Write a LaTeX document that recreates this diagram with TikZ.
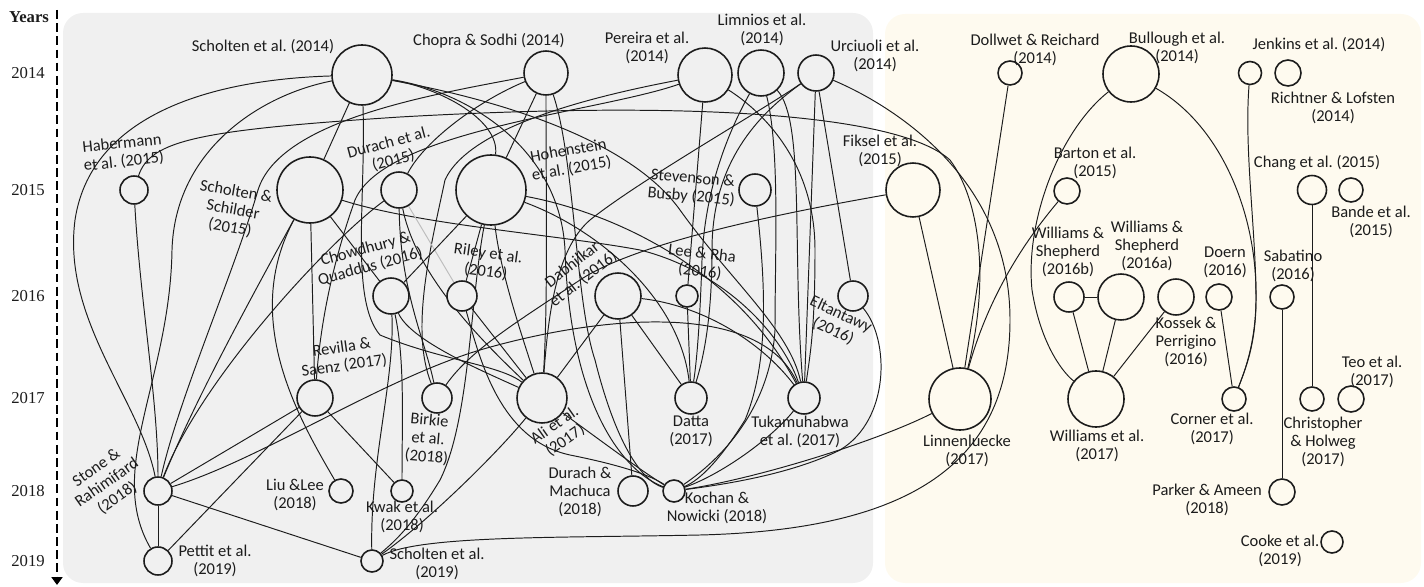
\documentclass[tikz,border=0pt]{standalone}
\usepackage{fontspec}
\setmainfont{Carlito}
\newfontfamily\yearfont{Liberation Serif}
\usepackage{tikz}
\usetikzlibrary{arrows.meta,backgrounds,positioning}
\definecolor{cnGrey}{HTML}{F0F0F0}
\definecolor{cnCream}{HTML}{FEFAEF}
\definecolor{cnInk}{HTML}{1C1C1C}
\definecolor{cnFaint}{HTML}{BDBDBD}
\frenchspacing
\tikzset{
  cn diagram/.style={x=0.02cm, y=-0.02cm, line cap=round, line join=round, text=cnInk},
  cn paper/.style={circle, draw=cnInk, fill=cnGrey, line width=0.9pt,
    inner sep=0pt, minimum size=#1*0.02cm},
  cn late/.style={fill=cnCream},
  cn label/.style={font=\fontsize{9.4}{10.4}\selectfont, align=center, inner sep=0pt},
  cn link/.style={draw=cnInk, line width=0.55pt},
  cn faint/.style={draw=cnFaint, line width=0.55pt},
  cn year/.style={font=\yearfont\fontsize{9.5}{11}\selectfont},
  cn axis/.style={-{Triangle[length=1.6mm,width=2.2mm]}, draw=black,
    line width=1.5pt, line cap=butt, dash pattern=on 5pt off 2.5pt},
  cn panel/.style={rounded corners=0.4cm}
}
\begin{document}
\begin{tikzpicture}[cn diagram]
\useasboundingbox (0,0) rectangle (1424,587);
\begin{scope}[on background layer]
\fill[cn panel, cnGrey] (63,13) rectangle (873,583);
\fill[cn panel, cnCream] (885,14) rectangle (1421,583);
\end{scope}
\node[cn year, font=\yearfont\bfseries\fontsize{9.5}{11}\selectfont] (yHead) at (29,17) {Years};
\node[cn year] (y2014) at (28,73) {2014};
\node[cn year] (y2015) at (28,190) {2015};
\node[cn year] (y2016) at (28,296) {2016};
\node[cn year] (y2017) at (28,398) {2017};
\node[cn year] (y2018) at (28,491) {2018};
\node[cn year] (y2019) at (28,561) {2019};
\coordinate (axTop) at (57,10);
\coordinate (axEnd) at (57,585);
\draw[cn axis] (axTop) -- (axEnd);
% grey panel
\node[cn paper=60] (S14) at (362,75) {};
\node[cn paper=44] (CS14) at (546,73) {};
\node[cn paper=54] (Pe14) at (705,75) {};
\node[cn paper=46] (Li14) at (761,73) {};
\node[cn paper=36] (Ur14) at (816,73) {};
\node[cn paper=28] (Ha15) at (134,190) {};
\node[cn paper=66] (SS15) at (310,190) {};
\node[cn paper=36] (Du15) at (399,190) {};
\node[cn paper=70] (Ho15) at (491,190) {};
\node[cn paper=32] (SB15) at (755,190) {};
\node[cn paper=54, cn late] (Fi15) at (913,190) {};
\node[cn paper=36] (CQ16) at (391,296) {};
\node[cn paper=30] (Ri16) at (462,296) {};
\node[cn paper=46] (Da16) at (618,296) {};
\node[cn paper=22] (LR16) at (687,296) {};
\node[cn paper=30] (El16) at (853,296) {};
\node[cn paper=36] (RS17) at (315,398) {};
\node[cn paper=30] (Bi18) at (437,398) {};
\node[cn paper=50] (Al17) at (542,398) {};
\node[cn paper=32] (Dt17) at (691,398) {};
\node[cn paper=32] (Tu17) at (804,398) {};
\node[cn paper=62, cn late] (Ln17) at (960,399) {};
\node[cn paper=28] (SR18) at (158,491) {};
\node[cn paper=24] (LL18) at (341,491) {};
\node[cn paper=22] (Kw18) at (402,491) {};
\node[cn paper=30] (DM18) at (633,491) {};
\node[cn paper=22] (KN18) at (674,491) {};
\node[cn paper=28] (Pt19) at (158,561) {};
\node[cn paper=22] (S19) at (372,561) {};
% cream panel
\node[cn paper=24, cn late] (DR14) at (1010,73) {};
\node[cn paper=56, cn late] (Bu14) at (1131,74) {};
\node[cn paper=23, cn late] (Je14) at (1250,73) {};
\node[cn paper=26, cn late] (RL14) at (1288,73) {};
\node[cn paper=26, cn late] (Ba15) at (1067,191) {};
\node[cn paper=29, cn late] (Ch15) at (1312,190) {};
\node[cn paper=24, cn late] (Bd15) at (1351,190) {};
\node[cn paper=30, cn late] (WS16b) at (1069,297) {};
\node[cn paper=46, cn late] (WS16a) at (1121,297) {};
\node[cn paper=36, cn late] (KP16) at (1176,297) {};
\node[cn paper=26, cn late] (Do16) at (1219,297) {};
\node[cn paper=24, cn late] (Sa16) at (1282,297) {};
\node[cn paper=56, cn late] (Wi17) at (1096,399) {};
\node[cn paper=24, cn late] (Co17) at (1234,399) {};
\node[cn paper=24, cn late] (CH17) at (1312,399) {};
\node[cn paper=26, cn late] (Te17) at (1351,399) {};
\node[cn paper=26, cn late] (PA18) at (1282,492) {};
\node[cn paper=22, cn late] (Ck19) at (1332,542) {};
% labels
\node[cn label] (lS14) at (263,47) {Scholten et al. (2014)};
\node[cn label] (lCS14) at (489,41) {Chopra \& Sodhi (2014)};
\node[cn label] (lPe14) at (647,48) {Pereira et al.\\(2014)};
\node[cn label] (lLi14) at (762,30) {Limnios et al.\\(2014)};
\node[cn label] (lUr14) at (875,56) {Urciuoli et al.\\(2014)};
\node[cn label, rotate=6] (lHa15) at (123,153) {Habermann\\et al. (2015)};
\node[cn label, rotate=-10] (lSS15) at (233,210) {Scholten \&\\Schilder\\(2015)};
\node[cn label, rotate=15] (lDu15) at (391,152) {Durach et al.\\(2015)};
\node[cn label, rotate=10] (lHo15) at (570,160) {Hohenstein\\et al. (2015)};
\node[cn label, rotate=-5] (lSB15) at (692,188) {Stevenson \&\\Busby (2015)};
\node[cn label] (lFi15) at (880,151) {Fiksel et al.\\(2015)};
\node[cn label, rotate=15] (lCQ16) at (368,258) {Chowdhury \&\\Quaddus (2016)};
\node[cn label, rotate=-8] (lRi16) at (487,263) {Riley et al.\\(2016)};
\node[cn label, rotate=38] (lDa16) at (578,272) {Dabhilkar\\et al. (2016)};
\node[cn label, rotate=-7] (lLR16) at (701,263) {Lee \& Rha\\(2016)};
\node[cn label, rotate=-25] (lEl16) at (837,323) {Eltantawy\\(2016)};
\node[cn label, rotate=8] (lRS17) at (343,357) {Revilla \&\\Saenz (2017)};
\node[cn label, rotate=-5] (lBi18) at (428,439) {Birkie\\et al.\\(2018)};
\node[cn label, rotate=35] (lAl17) at (560,433) {Ali et al.\\(2017)};
\node[cn label] (lDt17) at (691,431) {Datta\\(2017)};
\node[cn label] (lTu17) at (800,432) {Tukamuhabwa\\et al. (2017)};
\node[cn label] (lLn17) at (967,451) {Linnenluecke\\(2017)};
\node[cn label, rotate=35] (lSR18) at (107,483) {Stone \&\\Rahimifard\\(2018)};
\node[cn label] (lLL18) at (295,495) {Liu \&Lee\\(2018)};
\node[cn label] (lKw18) at (402,517) {Kwak et al.\\(2018)};
\node[cn label] (lDM18) at (580,492) {Durach \&\\Machuca\\(2018)};
\node[cn label] (lKN18) at (717,508) {Kochan \&\\Nowicki (2018)};
\node[cn label] (lPt19) at (215,561) {Pettit et al.\\(2019)};
\node[cn label] (lS19) at (437,564) {Scholten et al.\\(2019)};
\node[cn label] (lDR14) at (1035,50) {Dollwet \& Reichard\\(2014)};
\node[cn label] (lBu14) at (1177,48) {Bullough et al.\\(2014)};
\node[cn label] (lJe14) at (1319,45) {Jenkins et al. (2014)};
\node[cn label] (lRL14) at (1333,108) {Richtner \& Lofsten\\(2014)};
\node[cn label] (lBa15) at (1095,163) {Barton et al.\\(2015)};
\node[cn label] (lCh15) at (1317,163) {Chang et al. (2015)};
\node[cn label] (lBd15) at (1371,222) {Bande et al.\\(2015)};
\node[cn label] (lWS16b) at (1068,252) {Williams \&\\Shepherd\\(2016b)};
\node[cn label] (lWS16a) at (1147,246) {Williams \&\\Shepherd\\(2016a)};
\node[cn label] (lDo16) at (1225,262) {Doern\\(2016)};
\node[cn label] (lSa16) at (1293,266) {Sabatino\\(2016)};
\node[cn label] (lKP16) at (1186,342) {Kossek \&\\Perrigino\\(2016)};
\node[cn label] (lWi17) at (1097,446) {Williams et al.\\(2017)};
\node[cn label] (lCo17) at (1212,429) {Corner et al.\\(2017)};
\node[cn label] (lCH17) at (1323,442) {Christopher\\\& Holweg\\(2017)};
\node[cn label] (lTe17) at (1372,372) {Teo et al.\\(2017)};
\node[cn label] (lPA18) at (1207,500) {Parker \& Ameen\\(2018)};
\node[cn label] (lCk19) at (1280,551) {Cooke et al.\\(2019)};
\begin{scope}[on background layer]
% citations, grey panel
\draw[cn link] (S14) .. controls (200,80) and (90,120) .. (75,220) .. controls (62,320) and (140,400) .. (SR18);
\draw[cn link] (S14) .. controls (260,95) and (175,150) .. (172,250) .. controls (170,380) and (105,470) .. (Pt19);
\draw[cn link] (S14) -- (SS15);
\draw[cn link] (S14) .. controls (366,200) and (350,300) .. (380,335) .. controls (440,360) and (500,365) .. (Al17);
\draw[cn link] (S14) .. controls (440,88) and (500,120) .. (Ho15);
\draw[cn link] (S14) .. controls (470,92) and (560,150) .. (565,250) .. controls (570,400) and (620,470) .. (KN18);
\draw[cn link] (S14) .. controls (500,100) and (630,140) .. (680,210) .. controls (730,280) and (790,330) .. (Tu17);
\draw[cn link] (Ha15) .. controls (150,140) and (200,130) .. (400,117) .. controls (700,100) and (900,115) .. (950,160) .. controls (980,200) and (990,280) .. (Ln17);
\draw[cn link] (Ha15) .. controls (140,300) and (158,400) .. (SR18);
\draw[cn link] (CS14) .. controls (430,95) and (280,120) .. (258,190) .. controls (235,270) and (178,400) .. (SR18);
\draw[cn link] (CS14) .. controls (480,100) and (425,140) .. (Du15);
\draw[cn link] (CS14) -- (Ho15);
\draw[cn link] (CS14) .. controls (546,200) and (548,300) .. (Al17);
\draw[cn link] (CS14) .. controls (575,160) and (575,300) .. (595,360) .. controls (615,440) and (640,480) .. (KN18);
\draw[cn link] (Pe14) .. controls (600,95) and (470,125) .. (445,180) .. controls (430,250) and (410,330) .. (Bi18);
\draw[cn link] (Pe14) .. controls (600,112) and (385,130) .. (355,200) .. controls (330,270) and (320,330) .. (RS17);
\draw[cn link] (Pe14) -- (LR16);
\draw[cn link] (Pe14) .. controls (760,110) and (815,160) .. (815,250) .. controls (815,330) and (810,355) .. (Tu17);
\draw[cn link] (Li14) .. controls (780,150) and (775,250) .. (775,330) .. controls (770,410) and (720,460) .. (KN18);
\draw[cn link] (Li14) .. controls (735,120) and (705,180) .. (702,260) .. controls (700,320) and (697,360) .. (Dt17);
\draw[cn link] (Li14) .. controls (805,120) and (792,250) .. (Tu17);
\draw[cn link] (Ur14) .. controls (760,112) and (640,180) .. (590,220) .. controls (555,250) and (548,320) .. (Al17);
\draw[cn link] (Ur14) .. controls (750,120) and (712,170) .. (712,250) .. controls (712,320) and (703,360) .. (Dt17);
\draw[cn link] (Ur14) -- (Tu17);
\draw[cn link] (Ur14) -- (El16);
\draw[cn link] (Ur14) .. controls (880,100) and (1010,170) .. (1010,320) .. controls (1010,470) and (900,530) .. (700,535) .. controls (560,538) and (420,535) .. (S19);
\draw[cn link] (SS15) .. controls (250,300) and (195,400) .. (SR18);
\draw[cn link] (SS15) -- (RS17);
\draw[cn link] (SS15) -- (CQ16);
\draw[cn link] (SS15) .. controls (420,225) and (560,235) .. (640,250) .. controls (720,270) and (780,330) .. (Tu17);
\draw[cn link] (SS15) .. controls (240,320) and (300,420) .. (LL18);
\draw[cn link] (Du15) .. controls (330,240) and (200,380) .. (SR18);
\draw[cn faint] (Du15) -- (Ri16);
\draw[cn link] (Du15) .. controls (415,270) and (470,330) .. (Al17);
\draw[cn link] (Du15) .. controls (400,290) and (425,340) .. (Bi18);
\draw[cn link] (Ho15) .. controls (500,270) and (520,330) .. (Al17);
\draw[cn link] (Ho15) .. controls (600,210) and (730,260) .. (Tu17);
\draw[cn link] (Ho15) .. controls (600,230) and (680,300) .. (Dt17);
\draw[cn link] (Ho15) -- (CQ16);
\draw[cn link] (Ho15) -- (Ri16);
\draw[cn link] (Ho15) .. controls (470,300) and (470,420) .. (440,480) .. controls (410,530) and (390,545) .. (S19);
\draw[cn link] (SB15) .. controls (765,280) and (770,360) .. (745,420) .. controls (720,460) and (700,480) .. (KN18);
\draw[cn link] (Fi15) -- (Ln17);
\draw[cn link] (Fi15) .. controls (800,210) and (640,240) .. (580,280) .. controls (520,320) and (470,350) .. (Bi18);
\draw[cn link] (CQ16) .. controls (395,380) and (370,460) .. (S19);
\draw[cn link] (CQ16) .. controls (410,340) and (480,370) .. (Al17);
\draw[cn link] (CQ16) .. controls (405,360) and (402,420) .. (Kw18);
\draw[cn link] (Ri16) -- (Al17);
\draw[cn link] (Ri16) .. controls (480,360) and (500,440) .. (570,455) .. controls (620,465) and (650,475) .. (KN18);
\draw[cn link] (Da16) -- (Al17);
\draw[cn link] (Da16) -- (Dt17);
\draw[cn link] (Da16) -- (DM18);
\draw[cn link] (Da16) .. controls (700,305) and (760,340) .. (Tu17);
\draw[cn link] (LR16) -- (Dt17);
\draw[cn link] (El16) .. controls (890,340) and (890,420) .. (840,450) .. controls (790,475) and (720,485) .. (KN18);
\draw[cn link] (RS17) -- (Pt19);
\draw[cn link] (RS17) -- (Kw18);
\draw[cn link] (SR18) -- (RS17);
\draw[cn link] (SR18) .. controls (260,460) and (380,380) .. (480,350) .. controls (600,315) and (760,300) .. (Tu17);
\draw[cn link] (SR18) -- (Pt19);
\draw[cn link] (SR18) -- (S19);
\draw[cn link] (Al17) .. controls (500,450) and (430,520) .. (S19);
\draw[cn link] (Al17) .. controls (600,440) and (640,470) .. (KN18);
\draw[cn link] (Tu17) .. controls (770,440) and (720,475) .. (KN18);
\draw[cn link] (Ln17) .. controls (880,440) and (760,478) .. (KN18);
% citations, cream panel
\draw[cn link] (DR14) -- (Ln17);
\draw[cn link] (Ba15) .. controls (1030,235) and (990,290) .. (Ln17);
\draw[cn link] (Bu14) .. controls (1060,130) and (1025,220) .. (1032,290) .. controls (1040,340) and (1060,370) .. (Wi17);
\draw[cn link] (Bu14) .. controls (1220,125) and (1255,210) .. (1256,290) .. controls (1257,340) and (1245,370) .. (Co17);
\draw[cn link] (Je14) .. controls (1244,150) and (1256,230) .. (1256,300) .. controls (1256,345) and (1245,370) .. (Co17);
\draw[cn link] (Ch15) -- (CH17);
\draw[cn link] (Sa16) -- (PA18);
\draw[cn link] (WS16b) -- (WS16a);
\draw[cn link] (WS16b) -- (Wi17);
\draw[cn link] (WS16a) -- (Wi17);
\draw[cn link] (KP16) -- (Wi17);
\draw[cn link] (Do16) -- (Co17);
\end{scope}
\end{tikzpicture}
\end{document}
